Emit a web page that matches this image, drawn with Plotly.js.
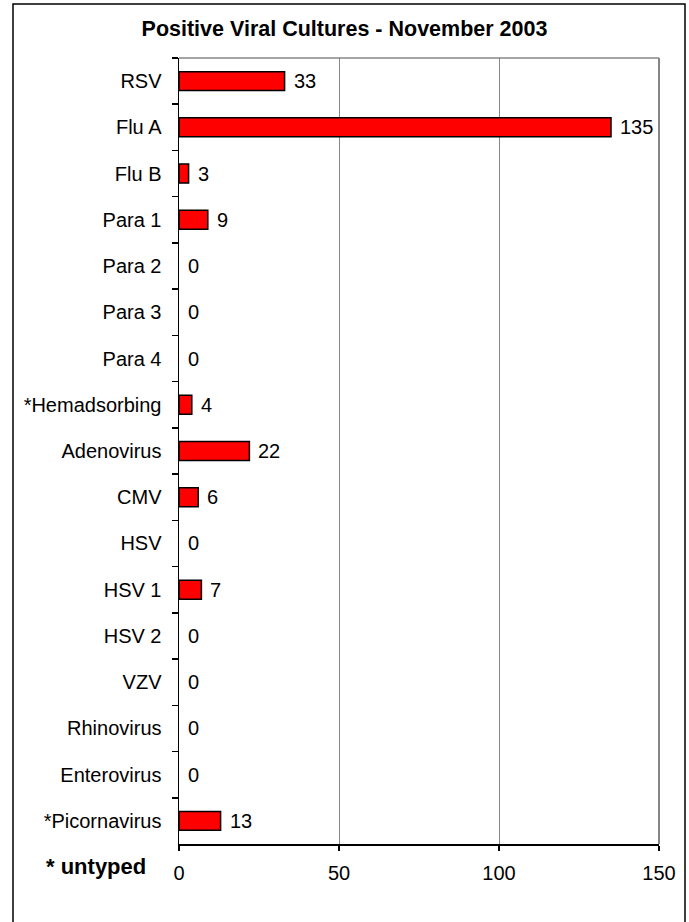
<!DOCTYPE html>
<html>
<head>
<meta charset="utf-8">
<script src="https://cdn.plot.ly/plotly-3.0.1.min.js"></script>
<style>html,body{margin:0;padding:0;background:#fff;}#chart{width:689px;height:922px;}</style>
</head>
<body>
<div id="chart"></div>
<script>
var categories = ["RSV","Flu A","Flu B","Para 1","Para 2","Para 3","Para 4","*Hemadsorbing","Adenovirus","CMV","HSV","HSV 1","HSV 2","VZV","Rhinovirus","Enterovirus","*Picornavirus"];
var counts = [33,135,3,9,0,0,0,4,22,6,0,7,0,0,0,0,13];
var xTicks = [0,50,100,150];
var chartTitle = "Positive Viral Cultures - November 2003";
var footnote = "* untyped";

var FONT = "Liberation Sans, Arial, Helvetica, sans-serif";

var W = 689, H = 922, ML = 179, MR = 30, MT = 58, MB = 78;
var pw = W - ML - MR, ph = H - MT - MB;
function px2x(p){ return (p - ML) / pw; }
function py2y(p){ return (H - MB - p) / ph; }

var barTrace = {
  type: "bar",
  orientation: "h",
  x: counts,
  y: categories,
  marker: {
    color: "#FF0000",
    line: {color: "#000000", width: counts.map(function(v){ return v > 0 ? 1.5 : 0; })}
  },
  width: 0.41,
  hoverinfo: "x+y"
};

var annotations = counts.map(function(v, i){
  return {
    x: v, y: categories[i], xref: "x", yref: "y",
    text: String(v), showarrow: false,
    xanchor: "left", yanchor: "middle", xshift: 7,
    font: {family: FONT, size: 20, color: "#000"}
  };
});
annotations.push({
  x: px2x(96), y: py2y(866), xref: "paper", yref: "paper",
  text: "<b>" + footnote + "</b>", showarrow: false,
  xanchor: "center", yanchor: "middle",
  font: {family: FONT, size: 22, color: "#000"}
});

var layout = {
  width: W, height: H,
  margin: {l: ML, r: MR, t: MT, b: MB, pad: 0},
  paper_bgcolor: "#ffffff", plot_bgcolor: "#ffffff",
  showlegend: false,
  font: {family: FONT, size: 20, color: "#000"},
  title: {
    text: "<b>" + chartTitle + "</b>",
    font: {family: FONT, size: 21.5, color: "#000"},
    x: 0.5, xref: "container", xanchor: "center",
    y: 1 - 28 / H, yref: "container", yanchor: "middle"
  },
  xaxis: {
    range: [0, 150], tickvals: xTicks, ticktext: xTicks.map(String),
    showgrid: true, gridcolor: "#868686", gridwidth: 1,
    zeroline: false, showline: true, linecolor: "#000", linewidth: 1.5,
    ticks: "outside", ticklen: 5, tickcolor: "#000", tickwidth: 1.5,
    ticklabelstandoff: 5,
    tickfont: {family: FONT, size: 20, color: "#000"},
    fixedrange: true
  },
  yaxis: {
    type: "category", autorange: "reversed",
    showgrid: false, zeroline: false,
    showline: true, linecolor: "#000", linewidth: 1.5,
    ticks: "outside", ticklen: 6, tickcolor: "#000", tickwidth: 1.5,
    tickson: "boundaries", ticklabelstandoff: 12,
    tickfont: {family: FONT, size: 20, color: "#000"},
    fixedrange: true
  },
  shapes: [
    {type: "line", xref: "paper", yref: "paper", x0: 0, x1: 1, y0: 1, y1: 1, line: {color: "#868686", width: 1.5}},
    {type: "line", xref: "paper", yref: "paper", x0: 1, x1: 1, y0: 0, y1: 1, line: {color: "#868686", width: 2}},
    {type: "rect", xref: "paper", yref: "paper", x0: px2x(13), x1: px2x(685), y0: py2y(935), y1: py2y(4), line: {color: "#000", width: 1.5}, fillcolor: "rgba(0,0,0,0)", layer: "above"}
  ],
  annotations: annotations
};

Plotly.newPlot("chart", [barTrace], layout, {displayModeBar: false, staticPlot: true});
</script>
</body>
</html>
